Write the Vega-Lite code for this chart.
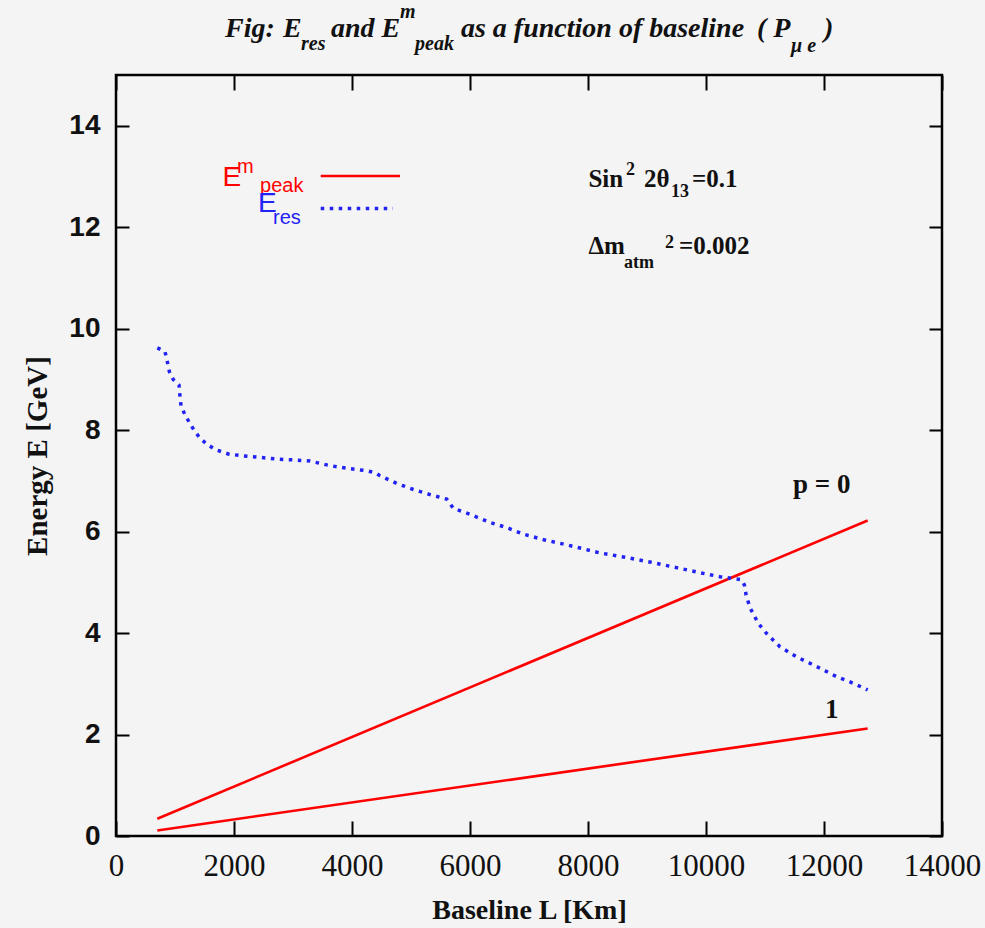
{
  "$schema": "https://vega.github.io/schema/vega-lite/v6.json",
  "width": 826,
  "height": 761,
  "autosize": "none",
  "padding": {"left": 116, "top": 75, "right": 43, "bottom": 92},
  "background": "#f4f4f4",
  "datasets": {
    "peak": [
      {"L": 700, "E": 0.34, "p": "0"},
      {"L": 12740, "E": 6.22, "p": "0"},
      {"L": 700, "E": 0.11, "p": "1"},
      {"L": 12740, "E": 2.12, "p": "1"}
    ],
    "eres": [
      {"L": 700, "E": 9.62}, {"L": 830, "E": 9.55}, {"L": 870, "E": 9.35}, {"L": 905, "E": 9.15},
      {"L": 970, "E": 9.0}, {"L": 1068, "E": 8.89}, {"L": 1085, "E": 8.66}, {"L": 1102, "E": 8.48},
      {"L": 1170, "E": 8.3}, {"L": 1243, "E": 8.15}, {"L": 1322, "E": 8.0}, {"L": 1424, "E": 7.84},
      {"L": 1537, "E": 7.73}, {"L": 1678, "E": 7.62}, {"L": 1904, "E": 7.53}, {"L": 2158, "E": 7.49},
      {"L": 2385, "E": 7.47}, {"L": 2724, "E": 7.43}, {"L": 3063, "E": 7.41}, {"L": 3289, "E": 7.39},
      {"L": 3628, "E": 7.3}, {"L": 3967, "E": 7.24}, {"L": 4249, "E": 7.2}, {"L": 4390, "E": 7.16},
      {"L": 4475, "E": 7.1}, {"L": 4757, "E": 6.95}, {"L": 5040, "E": 6.83}, {"L": 5322, "E": 6.73},
      {"L": 5605, "E": 6.64}, {"L": 5717, "E": 6.46}, {"L": 6000, "E": 6.34}, {"L": 6339, "E": 6.18},
      {"L": 6622, "E": 6.08}, {"L": 6904, "E": 5.95}, {"L": 7250, "E": 5.84}, {"L": 7639, "E": 5.74},
      {"L": 8203, "E": 5.58}, {"L": 8600, "E": 5.5}, {"L": 9051, "E": 5.4}, {"L": 9500, "E": 5.29},
      {"L": 9898, "E": 5.19}, {"L": 10237, "E": 5.11}, {"L": 10604, "E": 5.05}, {"L": 10650, "E": 4.95},
      {"L": 10680, "E": 4.75}, {"L": 10745, "E": 4.5}, {"L": 10887, "E": 4.19}, {"L": 11028, "E": 3.99},
      {"L": 11254, "E": 3.73}, {"L": 11537, "E": 3.53}, {"L": 11876, "E": 3.34}, {"L": 12215, "E": 3.14},
      {"L": 12497, "E": 3.01}, {"L": 12740, "E": 2.88}
    ]
  },
  "layer": [
    {
      "data": {"name": "peak"},
      "mark": {"type": "line", "color": "#ff0000", "strokeWidth": 2.6},
      "encoding": {
        "x": {
          "field": "L", "type": "quantitative",
          "scale": {"domain": [0, 14000], "nice": false, "zero": false},
          "axis": {
            "orient": "bottom", "values": [0, 2000, 4000, 6000, 8000, 10000, 12000, 14000], "format": "d",
            "tickSize": -15, "tickWidth": 2, "tickColor": "black", "domain": false, "grid": false,
            "labelFont": "Liberation Serif", "labelFontSize": 31, "labelColor": "#111", "labelPadding": 30,
            "labelFlush": false, "labelOverlap": false,
            "title": "Baseline L [Km]", "titleFont": "Liberation Serif", "titleFontSize": 28,
            "titleFontWeight": "bold", "titleColor": "#111", "titlePadding": 15
          }
        },
        "y": {
          "field": "E", "type": "quantitative",
          "scale": {"domain": [0, 15], "nice": false},
          "axis": {
            "orient": "left", "values": [0, 2, 4, 6, 8, 10, 12, 14],
            "tickSize": -13, "tickWidth": 2, "tickColor": "black", "domain": false, "grid": false,
            "labelFont": "Liberation Sans", "labelFontWeight": "bold", "labelFontSize": 28, "labelColor": "#111",
            "labelPadding": 29, "labelFlush": false, "labelOverlap": false,
            "title": "Energy E [GeV]", "titleFont": "Liberation Serif", "titleFontSize": 29,
            "titleFontWeight": "bold", "titleColor": "#111", "titlePadding": 16
          }
        },
        "detail": {"field": "p"}
      }
    },
    {
      "data": {"name": "eres"},
      "mark": {"type": "line", "color": "#2222f4", "strokeWidth": 3.5, "strokeDash": [3.5, 5.5], "strokeCap": "butt"},
      "encoding": {
        "x": {
          "field": "L", "type": "quantitative",
          "axis": {"orient": "top", "values": [0, 2000, 4000, 6000, 8000, 10000, 12000, 14000],
                   "tickSize": -15, "tickWidth": 2, "tickColor": "black", "domain": false, "grid": false,
                   "labels": false, "title": null}
        },
        "y": {
          "field": "E", "type": "quantitative",
          "axis": {"orient": "right", "values": [0, 2, 4, 6, 8, 10, 12, 14],
                   "tickSize": -13, "tickWidth": 2, "tickColor": "black", "domain": false, "grid": false,
                   "labels": false, "title": null}
        }
      }
    },

    {"data": {"values": [{"t": "Fig:"}]}, "mark": {"type": "text", "style": "ttl"},
     "encoding": {"x": {"datum": 1847, "type": "quantitative", "axis": null}, "y": {"datum": 15.75, "type": "quantitative", "axis": null}, "text": {"field": "t"}}},
    {"data": {"values": [{"t": "E"}]}, "mark": {"type": "text", "style": "ttl"},
     "encoding": {"x": {"datum": 2830, "type": "quantitative", "axis": null}, "y": {"datum": 15.75, "type": "quantitative", "axis": null}, "text": {"field": "t"}}},
    {"data": {"values": [{"t": "res"}]}, "mark": {"type": "text", "style": "ttls"},
     "encoding": {"x": {"datum": 3135, "type": "quantitative", "axis": null}, "y": {"datum": 15.49, "type": "quantitative", "axis": null}, "text": {"field": "t"}}},
    {"data": {"values": [{"t": "and E"}]}, "mark": {"type": "text", "style": "ttl"},
     "encoding": {"x": {"datum": 3644, "type": "quantitative", "axis": null}, "y": {"datum": 15.75, "type": "quantitative", "axis": null}, "text": {"field": "t"}}},
    {"data": {"values": [{"t": "m"}]}, "mark": {"type": "text", "style": "ttls"},
     "encoding": {"x": {"datum": 4813, "type": "quantitative", "axis": null}, "y": {"datum": 16.12, "type": "quantitative", "axis": null}, "text": {"field": "t"}}},
    {"data": {"values": [{"t": "peak"}]}, "mark": {"type": "text", "style": "ttls"},
     "encoding": {"x": {"datum": 5068, "type": "quantitative", "axis": null}, "y": {"datum": 15.49, "type": "quantitative", "axis": null}, "text": {"field": "t"}}},
    {"data": {"values": [{"t": "as a function of baseline"}]}, "mark": {"type": "text", "style": "ttl"},
     "encoding": {"x": {"datum": 5847, "type": "quantitative", "axis": null}, "y": {"datum": 15.75, "type": "quantitative", "axis": null}, "text": {"field": "t"}}},
    {"data": {"values": [{"t": "( P"}]}, "mark": {"type": "text", "style": "ttl"},
     "encoding": {"x": {"datum": 10864, "type": "quantitative", "axis": null}, "y": {"datum": 15.75, "type": "quantitative", "axis": null}, "text": {"field": "t"}}},
    {"data": {"values": [{"t": "μ e"}]}, "mark": {"type": "text", "style": "ttls"},
     "encoding": {"x": {"datum": 11441, "type": "quantitative", "axis": null}, "y": {"datum": 15.45, "type": "quantitative", "axis": null}, "text": {"field": "t"}}},
    {"data": {"values": [{"t": ")"}]}, "mark": {"type": "text", "style": "ttl"},
     "encoding": {"x": {"datum": 12000, "type": "quantitative", "axis": null}, "y": {"datum": 15.75, "type": "quantitative", "axis": null}, "text": {"field": "t"}}},

    {"data": {"values": [{"t": "E"}]}, "mark": {"type": "text", "style": "leg", "color": "#ff0000"},
     "encoding": {"x": {"datum": 1807, "type": "quantitative", "axis": null}, "y": {"datum": 12.81, "type": "quantitative", "axis": null}, "text": {"field": "t"}}},
    {"data": {"values": [{"t": "m"}]}, "mark": {"type": "text", "style": "legs", "color": "#ff0000"},
     "encoding": {"x": {"datum": 2051, "type": "quantitative", "axis": null}, "y": {"datum": 13.07, "type": "quantitative", "axis": null}, "text": {"field": "t"}}},
    {"data": {"values": [{"t": "peak"}]}, "mark": {"type": "text", "style": "legs", "color": "#ff0000"},
     "encoding": {"x": {"datum": 2441, "type": "quantitative", "axis": null}, "y": {"datum": 12.69, "type": "quantitative", "axis": null}, "text": {"field": "t"}}},
    {"data": {"values": [{"t": "E"}]}, "mark": {"type": "text", "style": "leg", "color": "#2222f4"},
     "encoding": {"x": {"datum": 2407, "type": "quantitative", "axis": null}, "y": {"datum": 12.3, "type": "quantitative", "axis": null}, "text": {"field": "t"}}},
    {"data": {"values": [{"t": "res"}]}, "mark": {"type": "text", "style": "legs", "color": "#2222f4"},
     "encoding": {"x": {"datum": 2661, "type": "quantitative", "axis": null}, "y": {"datum": 12.06, "type": "quantitative", "axis": null}, "text": {"field": "t"}}},
    {"data": {"values": [{}]}, "mark": {"type": "rule", "color": "#ff0000", "strokeWidth": 2.6},
     "encoding": {"x": {"datum": 3470, "type": "quantitative", "axis": null}, "x2": {"datum": 4814}, "y": {"datum": 13.01, "type": "quantitative", "axis": null}}},
    {"data": {"values": [{}]}, "mark": {"type": "rule", "color": "#2222f4", "strokeWidth": 3.5, "strokeDash": [3.5, 5.5], "strokeCap": "butt"},
     "encoding": {"x": {"datum": 3470, "type": "quantitative", "axis": null}, "x2": {"datum": 4695}, "y": {"datum": 12.37, "type": "quantitative", "axis": null}}},

    {"data": {"values": [{"t": "Sin"}]}, "mark": {"type": "text", "style": "ann"},
     "encoding": {"x": {"datum": 8007, "type": "quantitative", "axis": null}, "y": {"datum": 12.79, "type": "quantitative", "axis": null}, "text": {"field": "t"}}},
    {"data": {"values": [{"t": "2"}]}, "mark": {"type": "text", "style": "anns"},
     "encoding": {"x": {"datum": 8645, "type": "quantitative", "axis": null}, "y": {"datum": 13.03, "type": "quantitative", "axis": null}, "text": {"field": "t"}}},
    {"data": {"values": [{"t": "2θ"}]}, "mark": {"type": "text", "style": "ann"},
     "encoding": {"x": {"datum": 8949, "type": "quantitative", "axis": null}, "y": {"datum": 12.79, "type": "quantitative", "axis": null}, "text": {"field": "t"}}},
    {"data": {"values": [{"t": "13"}]}, "mark": {"type": "text", "style": "anns"},
     "encoding": {"x": {"datum": 9407, "type": "quantitative", "axis": null}, "y": {"datum": 12.6, "type": "quantitative", "axis": null}, "text": {"field": "t"}}},
    {"data": {"values": [{"t": "=0.1"}]}, "mark": {"type": "text", "style": "ann"},
     "encoding": {"x": {"datum": 9763, "type": "quantitative", "axis": null}, "y": {"datum": 12.79, "type": "quantitative", "axis": null}, "text": {"field": "t"}}},
    {"data": {"values": [{"t": "Δm"}]}, "mark": {"type": "text", "style": "ann"},
     "encoding": {"x": {"datum": 8007, "type": "quantitative", "axis": null}, "y": {"datum": 11.48, "type": "quantitative", "axis": null}, "text": {"field": "t"}}},
    {"data": {"values": [{"t": "atm"}]}, "mark": {"type": "text", "style": "anns"},
     "encoding": {"x": {"datum": 8610, "type": "quantitative", "axis": null}, "y": {"datum": 11.2, "type": "quantitative", "axis": null}, "text": {"field": "t"}}},
    {"data": {"values": [{"t": "2"}]}, "mark": {"type": "text", "style": "anns"},
     "encoding": {"x": {"datum": 9305, "type": "quantitative", "axis": null}, "y": {"datum": 11.59, "type": "quantitative", "axis": null}, "text": {"field": "t"}}},
    {"data": {"values": [{"t": "=0.002"}]}, "mark": {"type": "text", "style": "ann"},
     "encoding": {"x": {"datum": 9542, "type": "quantitative", "axis": null}, "y": {"datum": 11.48, "type": "quantitative", "axis": null}, "text": {"field": "t"}}},

    {"data": {"values": [{"t": "p = 0"}]}, "mark": {"type": "text", "style": "lbl"},
     "encoding": {"x": {"datum": 11475, "type": "quantitative", "axis": null}, "y": {"datum": 6.76, "type": "quantitative", "axis": null}, "text": {"field": "t"}}},
    {"data": {"values": [{"t": "1"}]}, "mark": {"type": "text", "style": "lbl"},
     "encoding": {"x": {"datum": 12017, "type": "quantitative", "axis": null}, "y": {"datum": 2.33, "type": "quantitative", "axis": null}, "text": {"field": "t"}}}
  ],
  "resolve": {"axis": {"x": "independent", "y": "independent"}},
  "config": {
    "view": {"stroke": "black", "strokeWidth": 2.5},
    "style": {
      "ttl": {"font": "Liberation Serif", "fontSize": 28, "fontStyle": "italic", "fontWeight": "bold", "align": "left", "baseline": "alphabetic", "color": "#111"},
      "ttls": {"font": "Liberation Serif", "fontSize": 20, "fontStyle": "italic", "fontWeight": "bold", "align": "left", "baseline": "alphabetic", "color": "#111"},
      "leg": {"font": "Liberation Sans", "fontSize": 28, "align": "left", "baseline": "alphabetic"},
      "legs": {"font": "Liberation Sans", "fontSize": 20, "align": "left", "baseline": "alphabetic"},
      "ann": {"font": "Liberation Serif", "fontSize": 25, "fontWeight": "bold", "align": "left", "baseline": "alphabetic", "color": "#111"},
      "anns": {"font": "Liberation Serif", "fontSize": 18, "fontWeight": "bold", "align": "left", "baseline": "alphabetic", "color": "#111"},
      "lbl": {"font": "Liberation Serif", "fontSize": 27, "fontWeight": "bold", "align": "left", "baseline": "alphabetic", "color": "#111"}
    }
  }
}
